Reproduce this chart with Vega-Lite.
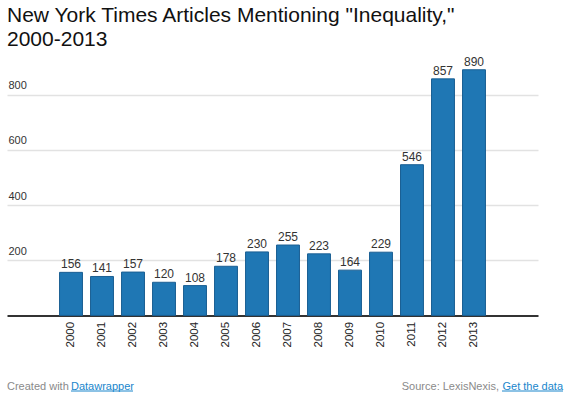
{
  "$schema": "https://vega.github.io/schema/vega-lite/v6.json",
  "padding": {"left": 7, "right": 7, "top": 4, "bottom": 4},
  "config": {
    "view": {"stroke": null},
    "font": "Liberation Sans",
    "concat": {"spacing": 34}
  },
  "title": {
    "text": ["New York Times Articles Mentioning \"Inequality,\"", "2000-2013"],
    "anchor": "start",
    "fontSize": 21,
    "fontWeight": "normal",
    "lineHeight": 24,
    "color": "#111111",
    "offset": 6
  },
  "vconcat": [
    {
      "width": 531,
      "height": 248.4,
      "data": {"values": [
        {"year": "2000", "articles": 156},
        {"year": "2001", "articles": 141},
        {"year": "2002", "articles": 157},
        {"year": "2003", "articles": 120},
        {"year": "2004", "articles": 108},
        {"year": "2005", "articles": 178},
        {"year": "2006", "articles": 230},
        {"year": "2007", "articles": 255},
        {"year": "2008", "articles": 223},
        {"year": "2009", "articles": 164},
        {"year": "2010", "articles": 229},
        {"year": "2011", "articles": 546},
        {"year": "2012", "articles": 857},
        {"year": "2013", "articles": 890}
      ]},
      "encoding": {
        "x": {
          "field": "year", "type": "ordinal", "title": null,
          "scale": {
            "domain": ["pre", "2000", "2001", "2002", "2003", "2004", "2005", "2006", "2007", "2008", "2009", "2010", "2011", "2012", "2013", "post"],
            "paddingInner": 0.26, "paddingOuter": 0.695
          },
          "axis": {
            "domain": true, "domainColor": "#333333", "domainWidth": 2,
            "ticks": false, "tickSize": 0,
            "labelAngle": -90, "labelAlign": "right", "labelBaseline": "middle",
            "labelPadding": 6, "labelFontSize": 11.5, "labelColor": "#222222",
            "labelExpr": "datum.label === 'pre' || datum.label === 'post' ? '' : datum.label",
            "grid": false
          }
        },
        "y": {
          "field": "articles", "type": "quantitative", "title": null,
          "scale": {"domain": [0, 900], "nice": false},
          "axis": {
            "values": [200, 400, 600, 800],
            "domain": false, "ticks": false, "tickSize": 0,
            "grid": true, "gridColor": "#e2e2e2", "gridWidth": 1.5,
            "labelAlign": "left", "labelBaseline": "alphabetic",
            "labelPadding": -1, "labelOffset": -6,
            "labelFontSize": 11, "labelColor": "#333333"
          }
        }
      },
      "layer": [
        {"mark": {"type": "bar", "color": "#1f77b4", "stroke": "#1a5f93", "strokeWidth": 1}},
        {
          "mark": {"type": "text", "baseline": "alphabetic", "dy": -4, "fontSize": 12, "color": "#333333"},
          "encoding": {"text": {"field": "articles", "type": "quantitative"}}
        }
      ]
    },
    {
      "width": 556,
      "height": 12,
      "data": {"values": [
        {"side": "left", "part": "credit", "label": "Created with"},
        {"side": "left", "part": "creditlink", "label": "Datawrapper"},
        {"side": "right", "part": "source", "label": "Source: LexisNexis,"},
        {"side": "right", "part": "sourcelink", "label": "Get the data"}
      ]},
      "encoding": {
        "x": {"field": "side", "type": "nominal", "scale": {"type": "point", "domain": ["left", "right"], "padding": 0}, "axis": null}
      },
      "layer": [
        {
          "transform": [{"filter": "datum.part === 'credit'"}],
          "mark": {"type": "text", "align": "left", "baseline": "middle", "fontSize": 11, "color": "#8a8a8a"},
          "encoding": {"text": {"field": "label", "type": "nominal"}}
        },
        {
          "transform": [{"filter": "datum.part === 'creditlink'"}],
          "mark": {"type": "text", "align": "left", "baseline": "middle", "fontSize": 11, "color": "#1a86cc", "dx": 64},
          "encoding": {"text": {"field": "label", "type": "nominal"}}
        },
        {
          "transform": [{"filter": "datum.part === 'creditlink'"}],
          "mark": {"type": "rule", "color": "#1a86cc", "strokeWidth": 1, "xOffset": 64, "x2Offset": 126, "yOffset": 4},
          "encoding": {"x2": {"field": "side"}}
        },
        {
          "transform": [{"filter": "datum.part === 'sourcelink'"}],
          "mark": {"type": "text", "align": "right", "baseline": "middle", "fontSize": 11, "color": "#1a86cc"},
          "encoding": {"text": {"field": "label", "type": "nominal"}}
        },
        {
          "transform": [{"filter": "datum.part === 'sourcelink'"}],
          "mark": {"type": "rule", "color": "#1a86cc", "strokeWidth": 1, "xOffset": -61, "x2Offset": 0, "yOffset": 4},
          "encoding": {"x2": {"field": "side"}}
        },
        {
          "transform": [{"filter": "datum.part === 'source'"}],
          "mark": {"type": "text", "align": "right", "baseline": "middle", "fontSize": 11, "color": "#8a8a8a", "dx": -64},
          "encoding": {"text": {"field": "label", "type": "nominal"}}
        }
      ]
    }
  ]
}
